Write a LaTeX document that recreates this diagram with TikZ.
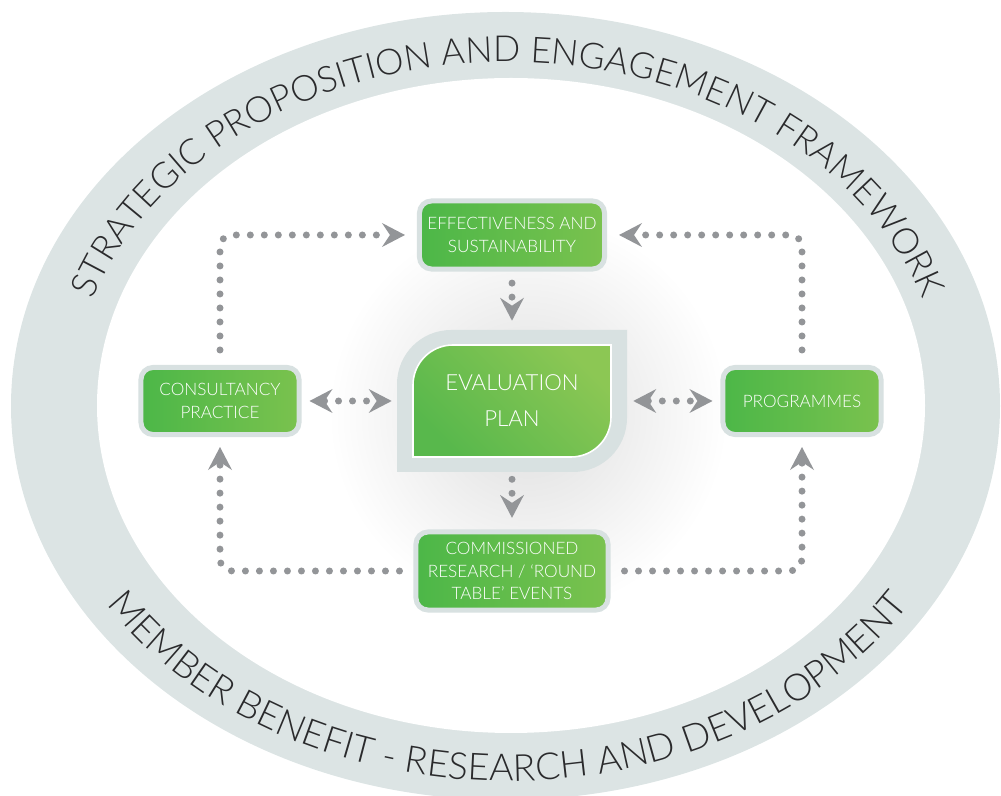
\documentclass[tikz,border=0pt]{standalone}
\usepackage{fontspec}
\IfFontExistsTF{Lato Light}{\setmainfont{Lato Light}}{\setmainfont{Lato}}
\usepackage{xcolor}
\usetikzlibrary{arrows.meta,calc,positioning,decorations.text}

\definecolor{ringgrey}{HTML}{DCE4E4}
\definecolor{rimgrey}{HTML}{D8E1E1}
\definecolor{dotgrey}{HTML}{939598}
\definecolor{ringtext}{HTML}{2A2A2C}
\definecolor{leafdark}{HTML}{4CB748}
\definecolor{leaflight}{HTML}{7AC24E}
\definecolor{plandark}{HTML}{58B84C}
\definecolor{planlight}{HTML}{8CC754}

\newcommand{\boxfont}{\fontsize{12.2}{16}\selectfont}
\newcommand{\planfont}{\fontsize{15.8}{25.6}\selectfont}
\newcommand{\ringfont}{\fontsize{25.5}{30}\selectfont}
\newcommand{\lowringfont}{\fontsize{26.5}{30}\selectfont}

\begin{document}
\begin{tikzpicture}[x=0.025cm,y=0.025cm]
	\tikzstyle{block} = [draw=rimgrey,line width=0.125cm,rounded corners=0.3cm,left color=leafdark,right color=leaflight,text=white,align=center,inner sep=0pt,font=\boxfont]
	\tikzset{
		dotline/.style={draw=dotgrey, line width=0.175cm, line cap=round, dash pattern=on 0pt off 0.35cm, rounded corners=0.3cm,
			-{Stealth[length=0.575cm, width=0.6cm, inset=0.2cm, line width=0pt]}},
		dotboth/.style={dotline,
			{Stealth[length=0.575cm, width=0.6cm, inset=0.2cm, line width=0pt]}-{Stealth[length=0.575cm, width=0.6cm, inset=0.2cm, line width=0pt]}},
		ringlabel/.style 2 args={decorate, decoration={text along path, text align=center, text color=ringtext, text={|#1|#2}}}
	}
	\useasboundingbox (0,0) rectangle (1001,796);
	\clip (0,0) rectangle (1001,796);

	% outer band
	\fill[ringgrey] (505.5,390) ellipse[x radius=494.5, y radius=394];
	\fill[white] (511,390.5) ellipse[x radius=414, y radius=327.5];
	\path[ringlabel={\ringfont}{STRATEGIC PROPOSITION AND ENGAGEMENT FRAMEWORK}] (508,391) ++(165:436 and 343) arc[start angle=165, end angle=15, x radius=436, y radius=343];
	\path[ringlabel={\lowringfont}{MEMBER BENEFIT - RESEARCH AND DEVELOPMENT}] (508,391) ++(205:474 and 376) arc[start angle=205, end angle=335, x radius=474, y radius=376];

	% soft halo behind the plan
	\shade[inner color=black!13, outer color=white] (528,382) circle[radius=200];

	% leaf shaped plan box
	\fill[rimgrey] (397,324) -- (397,395) [rounded corners=1.35cm] -- (397,466) -- (512,466) [sharp corners] -- (627,466) -- (627,395) [rounded corners=1.35cm] -- (627,324) -- (512,324) [sharp corners] -- cycle;
	\shade[top color=planlight, bottom color=plandark, shading angle=-45, draw=white, line width=0.04cm] (413,339) -- (413,395) [rounded corners=1cm] -- (413,451) -- (512,451) [sharp corners] -- (611,451) -- (611,395) [rounded corners=1cm] -- (611,339) -- (512,339) [sharp corners] -- cycle;
	\node[minimum width=5.75cm,minimum height=3.55cm,inner sep=0pt,text=white,align=center,font=\planfont] (T5) at (512,395) {EVALUATION\\PLAN};

	\node[block,minimum width=4.625cm,minimum height=1.7cm] (T1) at (512,561) {EFFECTIVENESS AND\\SUSTAINABILITY};
	\node[block,minimum width=3.95cm,minimum height=1.675cm] (T2) at (220,395) {CONSULTANCY\\PRACTICE};
	\node[block,minimum width=3.95cm,minimum height=1.675cm] (T3) at (802,395) {PROGRAMMES};
	\node[block,minimum width=4.8cm,minimum height=1.95cm] (T4) at (512,225) {COMMISSIONED\\RESEARCH / `ROUND\\TABLE' EVENTS};

	\draw[dotline,shorten <=0.375cm,shorten >=0.3cm] (T2.north) |- (T1.west);
	\draw[dotline,shorten <=0.375cm,shorten >=0.3cm] (T3.north) |- (T1.east);
	\draw[dotline,shorten <=0.35cm,shorten >=0.25cm] (T4.west) -| (T2.south);
	\draw[dotline,shorten <=0.35cm,shorten >=0.25cm] (T4.east) -| (T3.south);
	\draw[dotline,shorten <=0.29cm,shorten >=0.225cm] (T1.south) -- (T5.north);
	\draw[dotline,shorten <=0.175cm,shorten >=0.29cm] (T5.south) -- (T4.north);
	\draw[dotboth,shorten <=0.2cm,shorten >=0.125cm] (T2.east) -- (T5.west);
	\draw[dotboth,shorten <=0.15cm,shorten >=0.2cm] (T5.east) -- (T3.west);
\end{tikzpicture}
\end{document}
